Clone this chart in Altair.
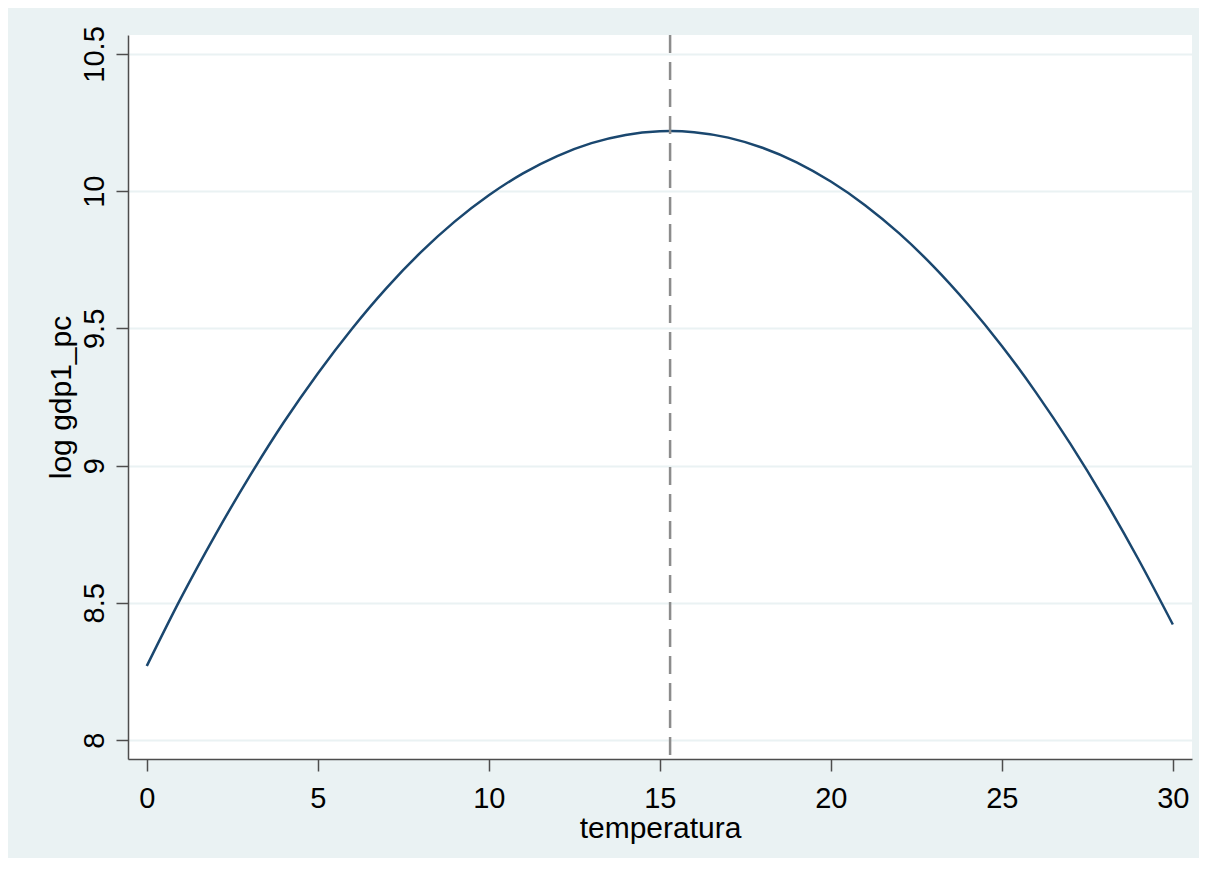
import altair as alt
import pandas as pd

# temperature grid (x) and fitted log GDP per capita
temperatura = [0, 1, 2, 3, 4, 5, 6, 7, 8, 9, 10, 11, 12, 13, 14, 15, 15.3, 16,
               17, 18, 19, 20, 21, 22, 23, 24, 25, 26, 27, 28, 29, 30]
log_gdp = [8.27, 8.518, 8.747, 8.96, 9.157, 9.336, 9.499, 9.646, 9.776,
           9.889, 9.985, 10.065, 10.128, 10.175, 10.205, 10.218, 10.219, 10.215,
           10.195, 10.158, 10.105, 10.035, 9.949, 9.846, 9.726, 9.589,
           9.436, 9.266, 9.08, 8.877, 8.657, 8.421]
peak_temp = [15.3]

x_ticks = [0, 5, 10, 15, 20, 25, 30]
y_ticks = [8, 8.5, 9, 9.5, 10, 10.5]

FONT = "Liberation Sans"
AX = "#4d4d4d"

df = pd.DataFrame({"temperatura": temperatura, "log_gdp": log_gdp})
peak_df = pd.DataFrame({"peak": peak_temp})

x_scale = alt.Scale(domain=[-0.55, 30.56], nice=False, zero=False)
y_scale = alt.Scale(domain=[7.931, 10.569], nice=False, zero=False)

x_axis = alt.Axis(
    values=x_ticks, format="~g", grid=False,
    title="temperatura", titleFont=FONT, titleFontSize=30, titleFontWeight="normal",
    titleColor="black", titleX=532, titleY=78, titleAlign="center",
    titleBaseline="alphabetic", titleAnchor="middle",
    labelFont=FONT, labelFontSize=29, labelColor="black", labelBaseline="top",
    labelPadding=13, labelAlign="center",
    tickSize=12, tickColor=AX, tickWidth=1.5, domainColor=AX, domainWidth=1.5,
)
y_axis = alt.Axis(
    values=y_ticks, format="~g", grid=True, gridColor="#eaf2f3", gridWidth=2,
    title="log gdp1_pc", titleFont=FONT, titleFontSize=30, titleFontWeight="normal",
    titleColor="black", titleAngle=270, titleX=-58, titleY=362, titleAlign="center",
    titleBaseline="alphabetic",
    labelFont=FONT, labelFontSize=29, labelColor="black", labelAngle=270,
    labelAlign="center", labelBaseline="alphabetic", labelPadding=13,
    tickSize=12, tickColor=AX, tickWidth=1.5, domainColor=AX, domainWidth=1.5,
)

rule = alt.Chart(peak_df).mark_rule(
    color="#8c8c8c", strokeWidth=2.5, strokeDash=[18, 9]
).encode(x=alt.X("peak:Q", scale=x_scale, axis=x_axis))

curve = alt.Chart(df).mark_line(
    color="#1a476f", strokeWidth=2.5, interpolate="monotone"
).encode(
    x=alt.X("temperatura:Q", scale=x_scale, axis=x_axis),
    y=alt.Y("log_gdp:Q", scale=y_scale, axis=y_axis),
)

chart = alt.layer(curve, rule).properties(
    width=1064,
    height=724,
    autosize=alt.AutoSizeParams(type="none"),
    padding={"left": 120, "top": 27, "right": 7, "bottom": 99},
    background="#eaf2f3",
).configure_view(fill="white", strokeWidth=0)

chart.save("out.html", embed_options={"renderer": "svg", "actions": False})
